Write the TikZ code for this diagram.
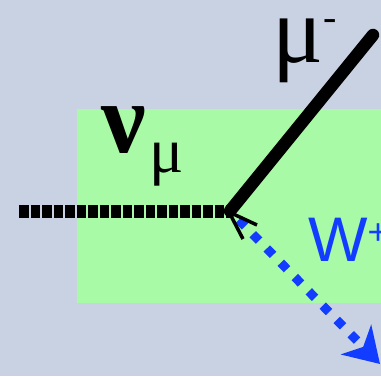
\documentclass[tikz,border=0pt]{standalone}
\usepackage{fontspec}
\setmainfont{Liberation Serif}
\newfontfamily\wfont{Liberation Sans}
\usetikzlibrary{arrows.meta}
\definecolor{bgc}{RGB}{201,210,226}
\definecolor{boxgreen}{RGB}{168,250,166}
\definecolor{wblue}{RGB}{18,60,255}
\tikzset{
  nuline/.style={line width=13pt, dash pattern=on 9.5pt off 2pt, black},
  muline/.style={line width=12.5pt, line cap=round, black},
  wline/.style={line width=9pt, wblue, dash pattern=on 9pt off 11pt, dash phase=7.5pt,
    -{Stealth[length=34pt,width=42pt,inset=10pt]}},
  vtip/.style={line width=3.5pt, black, line join=miter},
  lbl/.style={anchor=base west, inner sep=0pt}
}
\begin{document}
\begin{tikzpicture}[x=1pt,y=-1pt]
\fill[bgc] (0,0) rectangle (381,376);
\useasboundingbox (0,0) rectangle (381,376);
\fill[boxgreen] (77,109) rectangle (381,303);
\coordinate (v) at (230,211);
\coordinate (nuend) at (19,211);
\coordinate (muend) at (373,35);
\coordinate (wend) at (380,364);
\coordinate (ta) at (243,239);
\coordinate (tt) at (229,212);
\coordinate (tb) at (257,225);
\draw[nuline] (nuend) -- (v);
\draw[wline] (v) -- (wend);
\draw[muline] (v) -- (muend);
\draw[vtip] (ta) -- (tt) -- (tb);
\node[lbl, font=\fontsize{95}{95}\selectfont] (mu) at (272,62) {μ\raisebox{32pt}{\fontsize{40}{40}\selectfont -}};
\node[lbl, font=\fontsize{100}{100}\selectfont\bfseries] (nu) at (101,152) {ν\hspace{4pt}\raisebox{-20pt}{\fontsize{64}{64}\selectfont\mdseries μ}};
\node[lbl, text=wblue, font=\wfont\fontsize{63}{63}\selectfont] (w) at (308,261) {W\raisebox{17pt}{\fontsize{36}{36}\selectfont +}};
\end{tikzpicture}
\end{document}
